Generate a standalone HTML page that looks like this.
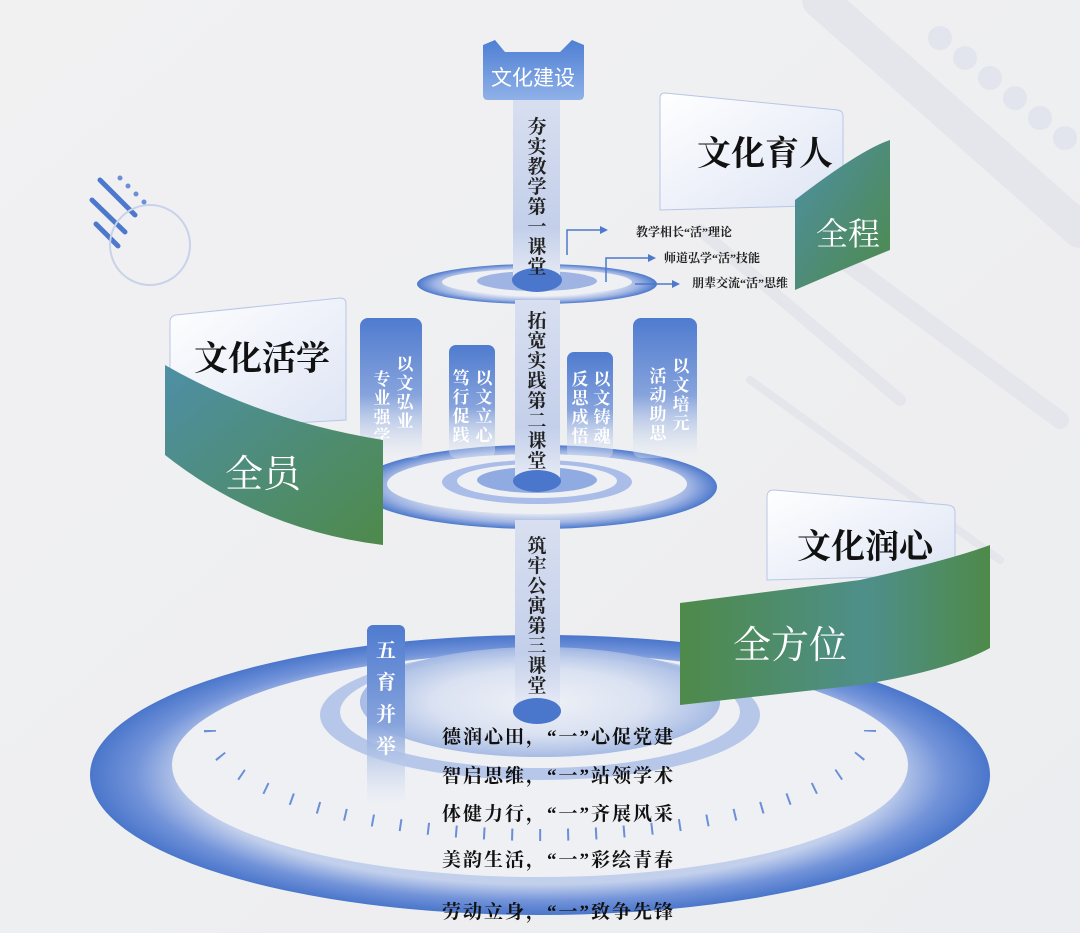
<!DOCTYPE html>
<html><head><meta charset="utf-8"><style>
html,body{margin:0;padding:0;background:#eeeff1;}
svg{display:block;font-family:"Liberation Serif","Noto Serif CJK SC",serif;}
.b{font-weight:bold;}
</style></head><body>
<svg width="1080" height="933" viewBox="0 0 1080 933" xmlns="http://www.w3.org/2000/svg">
<defs>
<linearGradient id="bg" x1="0" y1="0" x2="1" y2="1"><stop offset="0" stop-color="#f1f1f2"/><stop offset="1" stop-color="#ecedf0"/></linearGradient>
<linearGradient id="col" x1="0" y1="0" x2="0" y2="1"><stop offset="0" stop-color="#d8dff0"/><stop offset="0.7" stop-color="#c3cfea"/><stop offset="1" stop-color="#e8ecf5"/></linearGradient>
<linearGradient id="pil" x1="0" y1="0" x2="0" y2="1"><stop offset="0" stop-color="#4f7bcf"/><stop offset="0.55" stop-color="#86a3dc"/><stop offset="1" stop-color="#eef1f6" stop-opacity="0.3"/></linearGradient>
<linearGradient id="grn" x1="0" y1="0" x2="1" y2="1"><stop offset="0" stop-color="#4e8fa6"/><stop offset="1" stop-color="#4e8a4a"/></linearGradient>
<linearGradient id="grn2" x1="0" y1="0" x2="1" y2="0"><stop offset="0" stop-color="#4e8a4a"/><stop offset="0.6" stop-color="#4e8f8a"/><stop offset="1" stop-color="#4e8a4a"/></linearGradient>
<linearGradient id="card" x1="0" y1="0" x2="1" y2="1"><stop offset="0" stop-color="#ffffff"/><stop offset="1" stop-color="#dde4f4"/></linearGradient>
<radialGradient id="ring" cx="0.5" cy="0.5" r="0.5"><stop offset="0.6" stop-color="#eef0f4"/><stop offset="0.85" stop-color="#9fb4e3"/><stop offset="1" stop-color="#4d79cc"/></radialGradient>
<radialGradient id="bring" cx="0.5" cy="0.5" r="0.5"><stop offset="0.78" stop-color="#c3d0ec"/><stop offset="0.9" stop-color="#7293d9"/><stop offset="1" stop-color="#4a76cb"/></radialGradient>
<radialGradient id="inner" cx="0.5" cy="0.5" r="0.5"><stop offset="0" stop-color="#f0f2f7"/><stop offset="0.6" stop-color="#c9d5ef"/><stop offset="1" stop-color="#6b8fd6"/></radialGradient>
<linearGradient id="tag" x1="0" y1="0" x2="0" y2="1"><stop offset="0" stop-color="#4e7fd3"/><stop offset="1" stop-color="#8fb1e8"/></linearGradient>
</defs>
<rect width="1080" height="933" fill="url(#bg)"/>
<!-- decorative stripes -->
<g stroke="#e4e6ec" stroke-linecap="round" fill="none">
<line x1="820" y1="0" x2="1080" y2="230" stroke-width="36"/>
<line x1="700" y1="230" x2="900" y2="400" stroke-width="12"/>
<line x1="830" y1="250" x2="1060" y2="420" stroke-width="18"/>
<line x1="750" y1="380" x2="1000" y2="560" stroke-width="8"/>
</g>
<g fill="#e2e5ed"><circle cx="940" cy="38" r="12"/><circle cx="965" cy="58" r="12"/><circle cx="990" cy="78" r="12"/><circle cx="1015" cy="98" r="12"/><circle cx="1040" cy="118" r="12"/><circle cx="1065" cy="138" r="12"/></g>
<!-- left-top deco -->
<g stroke="#4d79cc" stroke-linecap="round" stroke-width="5">
<line x1="100" y1="180" x2="135" y2="215"/><line x1="92" y1="200" x2="125" y2="232"/><line x1="96" y1="224" x2="118" y2="246"/>
</g>
<circle cx="150" cy="245" r="40" fill="none" stroke="#c8d2ea" stroke-width="2"/>
<g fill="#6b8fd6"><circle cx="120" cy="178" r="2.5"/><circle cx="128" cy="186" r="2.5"/><circle cx="136" cy="194" r="2.5"/><circle cx="144" cy="202" r="2.5"/></g>

<!-- bottom big rings -->
<ellipse cx="540" cy="775" rx="450" ry="140" fill="url(#bring)"/>
<ellipse cx="540" cy="765" rx="368" ry="112" fill="#eef0f4"/>
<path d="M210 730 A330 105 0 0 0 870 730" fill="none" stroke="#6b8fd6" stroke-width="12" stroke-dasharray="2 26"/>
<ellipse cx="540" cy="715" rx="220" ry="65" fill="#b7c7ea"/>
<ellipse cx="540" cy="712" rx="200" ry="56" fill="#eef0f4"/>
<ellipse cx="540" cy="702" rx="180" ry="55" fill="url(#inner)" opacity="0.9"/>
<ellipse cx="540" cy="702" rx="180" ry="55" fill="#eef0f4" opacity="0.4"/>

<!-- middle rings -->
<ellipse cx="537" cy="487" rx="180" ry="42" fill="url(#ring)"/>
<ellipse cx="537" cy="484" rx="150" ry="30" fill="#eef0f4"/>
<ellipse cx="537" cy="482" rx="95" ry="22" fill="#a9bde8"/>
<ellipse cx="537" cy="481" rx="80" ry="17" fill="#eef0f4"/>
<ellipse cx="537" cy="480" rx="60" ry="13" fill="#8fabe2"/>
<!-- top rings -->
<ellipse cx="537" cy="284" rx="120" ry="20" fill="url(#ring)"/>
<ellipse cx="537" cy="282" rx="95" ry="13" fill="#eef0f4"/>
<ellipse cx="537" cy="281" rx="60" ry="10" fill="#9fb4e3"/>

<!-- pillars -->
<g>
<rect x="360" y="318" width="62" height="140" rx="8" fill="url(#pil)"/>
<rect x="449" y="345" width="46" height="113" rx="7" fill="url(#pil)"/>
<rect x="567" y="352" width="46" height="106" rx="7" fill="url(#pil)"/>
<rect x="633" y="318" width="64" height="140" rx="8" fill="url(#pil)"/>
<rect x="367" y="625" width="38" height="180" rx="6" fill="url(#pil)"/>
</g>
<g fill="#fff" font-size="17" class="b" text-anchor="middle">
<text x="405" y="370"><tspan x="405">以</tspan><tspan x="405" dy="19">文</tspan><tspan x="405" dy="19">弘</tspan><tspan x="405" dy="19">业</tspan></text>
<text x="382" y="385"><tspan x="382">专</tspan><tspan x="382" dy="19">业</tspan><tspan x="382" dy="19">强</tspan><tspan x="382" dy="19">学</tspan></text>
<text x="484" y="384"><tspan x="484">以</tspan><tspan x="484" dy="19">文</tspan><tspan x="484" dy="19">立</tspan><tspan x="484" dy="19">心</tspan></text>
<text x="461" y="384"><tspan x="461">笃</tspan><tspan x="461" dy="19">行</tspan><tspan x="461" dy="19">促</tspan><tspan x="461" dy="19">践</tspan></text>
<text x="602" y="385"><tspan x="602">以</tspan><tspan x="602" dy="19">文</tspan><tspan x="602" dy="19">铸</tspan><tspan x="602" dy="19">魂</tspan></text>
<text x="580" y="385"><tspan x="580">反</tspan><tspan x="580" dy="19">思</tspan><tspan x="580" dy="19">成</tspan><tspan x="580" dy="19">悟</tspan></text>
<text x="681" y="372"><tspan x="681">以</tspan><tspan x="681" dy="19">文</tspan><tspan x="681" dy="19">培</tspan><tspan x="681" dy="19">元</tspan></text>
<text x="658" y="382"><tspan x="658">活</tspan><tspan x="658" dy="19">动</tspan><tspan x="658" dy="19">助</tspan><tspan x="658" dy="19">思</tspan></text>
<text x="386" y="657" font-size="20"><tspan x="386">五</tspan><tspan x="386" dy="32">育</tspan><tspan x="386" dy="32">并</tspan><tspan x="386" dy="32">举</tspan></text>
</g>

<!-- central columns -->
<rect x="513" y="98" width="47" height="185" fill="url(#col)"/>
<rect x="515" y="300" width="45" height="182" fill="url(#col)"/>
<rect x="515" y="520" width="45" height="190" fill="url(#col)"/>
<ellipse cx="537" cy="280" rx="25" ry="12" fill="#4a76cb"/>
<ellipse cx="537" cy="481" rx="24" ry="11" fill="#4a76cb"/>
<ellipse cx="537" cy="711" rx="24" ry="13" fill="#4a76cb"/>
<g fill="#222" font-size="19" class="b" text-anchor="middle">
<text><tspan x="537" y="133">夯</tspan><tspan x="537" dy="20">实</tspan><tspan x="537" dy="20">教</tspan><tspan x="537" dy="20">学</tspan><tspan x="537" dy="20">第</tspan><tspan x="537" dy="20">一</tspan><tspan x="537" dy="20">课</tspan><tspan x="537" dy="20">堂</tspan></text>
<text><tspan x="537" y="327">拓</tspan><tspan x="537" dy="20">宽</tspan><tspan x="537" dy="20">实</tspan><tspan x="537" dy="20">践</tspan><tspan x="537" dy="20">第</tspan><tspan x="537" dy="20">二</tspan><tspan x="537" dy="20">课</tspan><tspan x="537" dy="20">堂</tspan></text>
<text><tspan x="537" y="552">筑</tspan><tspan x="537" dy="20">牢</tspan><tspan x="537" dy="20">公</tspan><tspan x="537" dy="20">寓</tspan><tspan x="537" dy="20">第</tspan><tspan x="537" dy="20">三</tspan><tspan x="537" dy="20">课</tspan><tspan x="537" dy="20">堂</tspan></text>
</g>

<!-- top tag -->
<path d="M483 45 L495 40 L505 52 L560 52 L572 40 L584 45 L584 95 Q584 100 579 100 L488 100 Q483 100 483 95 Z" fill="url(#tag)"/>
<text x="533" y="85" font-size="21" fill="#fff" text-anchor="middle" font-family="Liberation Sans,Noto Sans CJK SC,sans-serif">文化建设</text>

<!-- arrows -->
<g stroke="#4d79cc" stroke-width="1.5" fill="none">
<path d="M567 255 V230 H600"/><path d="M606 282 V258 H648"/><path d="M635 284 H672"/>
</g>
<g fill="#4d79cc"><path d="M600 226 L608 230 L600 234Z"/><path d="M648 254 L656 258 L648 262Z"/><path d="M672 280 L680 284 L672 288Z"/></g>
<g font-size="12" fill="#222" class="b">
<text x="636" y="236">教学相长“活”理论</text>
<text x="664" y="262">师道弘学“活”技能</text>
<text x="692" y="287">朋辈交流“活”思维</text>
</g>

<!-- right top banner -->
<path d="M660 98 Q660 93 665 93 L838 110 Q843 111 843 116 L843 205 L660 210 Z" fill="url(#card)" stroke="#b8c6e6"/>
<path d="M795 200 Q860 150 890 140 L890 250 Q860 262 795 290 Z" fill="url(#grn)"/>
<text x="765" y="165" font-size="34" class="b" fill="#111" text-anchor="middle">文化育人</text>
<text x="848" y="245" font-size="32" fill="#fff" text-anchor="middle">全程</text>

<!-- left banner -->
<path d="M170 322 Q170 316 176 315 L340 298 Q346 298 346 304 L346 420 L170 430 Z" fill="url(#card)" stroke="#b8c6e6"/>
<path d="M165 365 Q260 420 383 440 L383 545 Q260 530 165 455 Z" fill="url(#grn)"/>
<text x="262" y="370" font-size="34" class="b" fill="#111" text-anchor="middle">文化活学</text>
<text x="263" y="487" font-size="38" fill="#fff" text-anchor="middle">全员</text>

<!-- right bottom banner -->
<path d="M767 497 Q767 490 774 490 L948 505 Q955 506 955 512 L955 575 L767 580 Z" fill="url(#card)" stroke="#b8c6e6"/>
<path d="M680 603 L860 580 Q950 560 990 545 L990 648 Q950 670 860 685 L680 705 Z" fill="url(#grn2)"/>
<text x="865" y="558" font-size="34" class="b" fill="#111" text-anchor="middle">文化润心</text>
<text x="790" y="658" font-size="38" fill="#fff" text-anchor="middle">全方位</text>

<!-- bottom lines -->
<g font-size="19" class="b" fill="#111" letter-spacing="2">
<text x="442" y="743">德润心田，“一”心促党建</text>
<text x="442" y="782">智启思维，“一”站领学术</text>
<text x="442" y="820">体健力行，“一”齐展风采</text>
<text x="442" y="866">美韵生活，“一”彩绘青春</text>
<text x="442" y="918">劳动立身，“一”致争先锋</text>
</g>
</svg>
</body></html>
